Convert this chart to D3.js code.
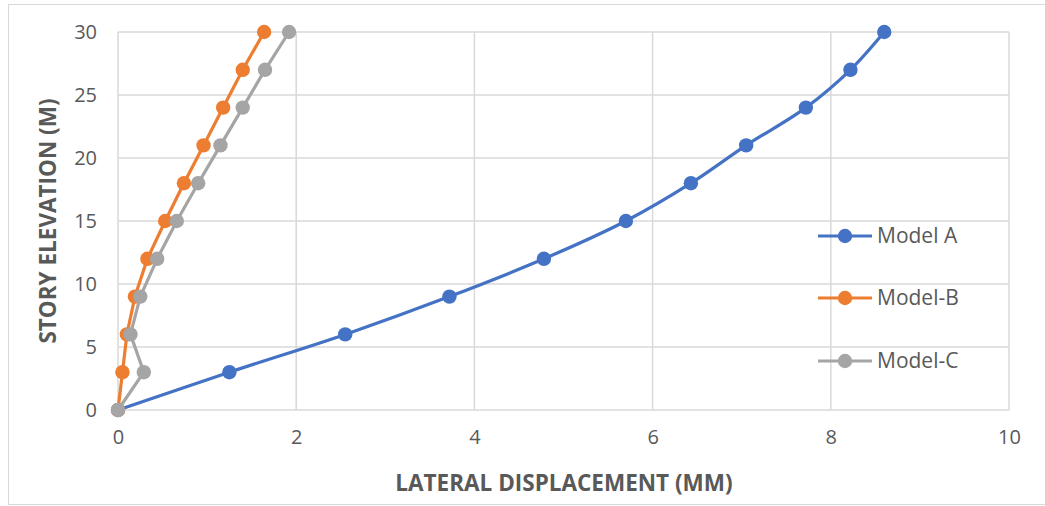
<!DOCTYPE html>
<html>
<head>
<meta charset="utf-8">
<script src="https://cdn.jsdelivr.net/npm/d3@7"></script>
<style>
  body { margin: 0; background: #fff; }
  svg { font-family: "Open Sans", "Noto Sans", sans-serif; }
</style>
</head>
<body>
<svg id="chart" width="1045" height="506"></svg>
<script>
// story elevations (m)
const elevations = [0, 3, 6, 9, 12, 15, 18, 21, 24, 27, 30];
// lateral displacement (mm)
const modelA = [0, 1.25, 2.55, 3.72, 4.78, 5.7, 6.43, 7.05, 7.72, 8.22, 8.6];
const modelB = [0, 0.05, 0.1, 0.19, 0.33, 0.53, 0.74, 0.96, 1.18, 1.4, 1.64];
const modelC = [0, 0.29, 0.14, 0.25, 0.44, 0.66, 0.9, 1.15, 1.4, 1.65, 1.92];
const seriesNames = ["Model A", "Model-B", "Model-C"];
const seriesColors = ["#4472c4", "#ed7d31", "#a5a5a5"];
const xTicks = [0, 2, 4, 6, 8, 10];
const yTicks = [0, 5, 10, 15, 20, 25, 30];

const svg = d3.select("#chart");

// chart frame
svg.append("rect")
    .attr("x", 8.5).attr("y", 4.5)
    .attr("width", 1045).attr("height", 500)
    .attr("fill", "#fff")
    .attr("stroke", "#d9d9d9");

const x = d3.scaleLinear().domain([0, 10]).range([118, 1009]);
const y = d3.scaleLinear().domain([0, 30]).range([410, 32]);

// grid
svg.append("g").selectAll("line.v")
    .data(xTicks).join("line")
    .attr("x1", d => x(d)).attr("x2", d => x(d))
    .attr("y1", y(0)).attr("y2", y(30))
    .attr("stroke", "#d9d9d9").attr("stroke-width", 1.5);
svg.append("g").selectAll("line.h")
    .data(yTicks).join("line")
    .attr("x1", x(0)).attr("x2", x(10))
    .attr("y1", d => y(d)).attr("y2", d => y(d))
    .attr("stroke", "#d9d9d9").attr("stroke-width", 1.5);

// axes (labels only)
const xAxis = svg.append("g")
    .attr("transform", `translate(0,${y(0)})`)
    .call(d3.axisBottom(x).tickValues(xTicks).tickSize(0).tickPadding(20));
const yAxis = svg.append("g")
    .attr("transform", `translate(${x(0)},0)`)
    .call(d3.axisLeft(y).tickValues(yTicks).tickSize(0).tickPadding(21));
[xAxis, yAxis].forEach(a => {
    a.select(".domain").remove();
    a.selectAll("text")
        .attr("font-size", 20)
        .attr("fill", "#595959")
        .attr("font-family", "'Open Sans', sans-serif");
});

// axis titles
svg.append("text")
    .attr("x", 564).attr("y", 491)
    .attr("text-anchor", "middle")
    .attr("font-size", 22.5).attr("font-weight", "bold")
    .attr("fill", "#595959")
    .text("LATERAL DISPLACEMENT (MM)");
svg.append("text")
    .attr("transform", "translate(56,221) rotate(-90)")
    .attr("text-anchor", "middle")
    .attr("font-size", 22.5).attr("font-weight", "bold")
    .attr("fill", "#595959")
    .text("STORY ELEVATION (M)");

// series
const allSeries = [modelA, modelB, modelC];
const curves = [d3.curveCatmullRom, d3.curveLinear, d3.curveLinear];

allSeries.forEach((vals, i) => {
    const pts = vals.map((v, j) => [v, elevations[j]]);
    const line = d3.line()
        .x(d => x(d[0])).y(d => y(d[1]))
        .curve(curves[i]);
    svg.append("path")
        .datum(pts)
        .attr("d", line)
        .attr("fill", "none")
        .attr("stroke", seriesColors[i])
        .attr("stroke-width", 3.2)
        .attr("stroke-linejoin", "round");
    svg.append("g").selectAll("circle")
        .data(pts).join("circle")
        .attr("cx", d => x(d[0])).attr("cy", d => y(d[1]))
        .attr("r", 7.2)
        .attr("fill", seriesColors[i]);
});

// legend
const legend = svg.append("g");
const legendY = [236, 298, 361];
seriesNames.forEach((name, i) => {
    const g = legend.append("g").attr("transform", `translate(818,${legendY[i]})`);
    g.append("line")
        .attr("x1", 0).attr("x2", 54).attr("y1", 0).attr("y2", 0)
        .attr("stroke", seriesColors[i]).attr("stroke-width", 3.2);
    g.append("circle").attr("cx", 27).attr("cy", 0).attr("r", 7.2).attr("fill", seriesColors[i]);
    g.append("text")
        .attr("x", 59).attr("y", 0).attr("dy", "0.35em")
        .attr("font-size", 21).attr("fill", "#595959")
        .text(name);
});
</script>
</body>
</html>
